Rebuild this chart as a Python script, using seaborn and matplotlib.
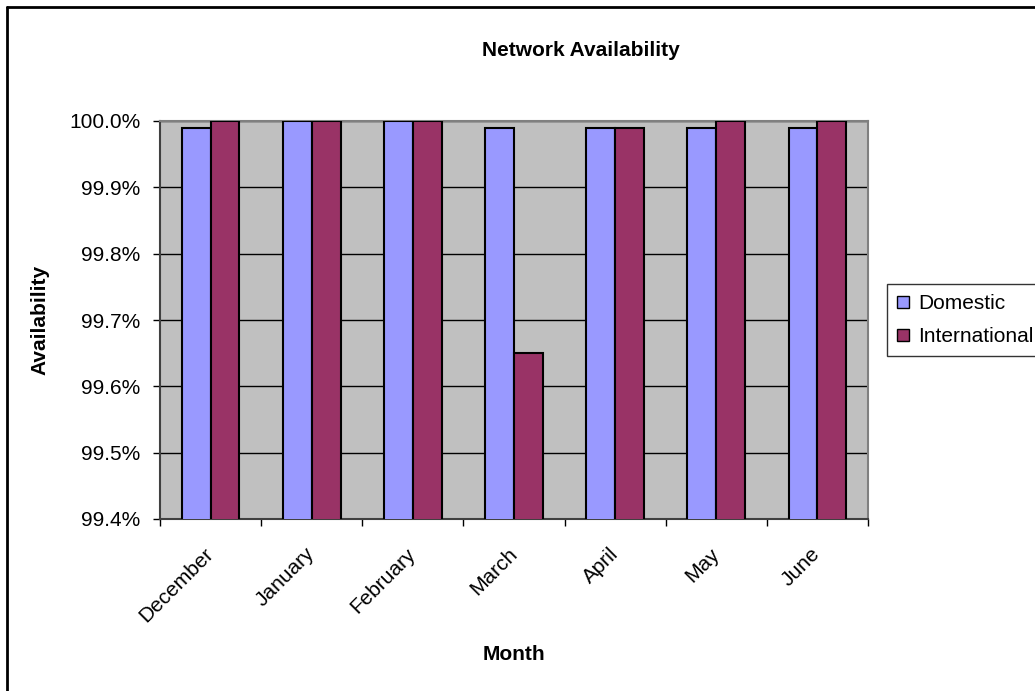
import matplotlib
matplotlib.use("Agg")
import matplotlib.pyplot as plt
import pandas as pd
import seaborn as sns
from matplotlib.ticker import FuncFormatter, FixedLocator
from matplotlib.lines import Line2D

months = ["December", "January", "February", "March", "April", "May", "June"]
domestic = [99.99, 100.0, 100.0, 99.99, 99.99, 99.99, 99.99]
international = [100.0, 100.0, 100.0, 99.65, 99.99, 100.0, 100.0]
series = ["Domestic", "International"]
colors = ["#9999FF", "#993366"]

df = pd.DataFrame({
    "Month": months * 2,
    "Availability": domestic + international,
    "Series": [series[0]] * len(months) + [series[1]] * len(months),
})

sns.set_style("white")
plt.rcParams["font.family"] = ["Liberation Sans", "DejaVu Sans"]
plt.rcParams["text.color"] = "black"
plt.rcParams["axes.labelcolor"] = "black"
plt.rcParams["xtick.color"] = "black"
plt.rcParams["ytick.color"] = "black"

fig = plt.figure(figsize=(10.35, 6.91), dpi=100)
ax = fig.add_axes([160 / 1035, 1 - 519 / 691, 708 / 1035, 398 / 691])
ax.set_facecolor("#C0C0C0")

sns.barplot(data=df, x="Month", y="Availability", hue="Series", order=months,
            hue_order=series, palette=colors, saturation=1, width=0.57,
            edgecolor="black", linewidth=1.5, ax=ax, legend=False, zorder=3)

ax.set_ylim(99.4, 100.0)
ax.set_xlim(-0.5, len(months) - 0.5)
ax.set_yticks([99.4 + 0.1 * i for i in range(7)])
ax.yaxis.set_major_formatter(FuncFormatter(lambda v, p: f"{v:.1f}%"))
ax.grid(axis="y", color="black", linewidth=1, zorder=1)
ax.set_axisbelow(True)
ax.tick_params(axis="y", length=5, width=1, labelsize=15, color="black",
               labelcolor="black", pad=9, left=True)
ax.tick_params(axis="x", which="major", length=0, labelsize=15,
               labelcolor="black", pad=23)
ax.xaxis.set_minor_locator(FixedLocator([i - 0.5 for i in range(len(months) + 1)]))
ax.tick_params(axis="x", which="minor", length=5, width=1, color="black", bottom=True)
plt.setp(ax.get_xticklabels(), rotation=45, ha="right", va="center",
         rotation_mode="anchor")

for side in ["top", "right"]:
    ax.spines[side].set_color("#808080")
    ax.spines[side].set_linewidth(1.5)
for side in ["left", "bottom"]:
    ax.spines[side].set_color("#404040")
    ax.spines[side].set_linewidth(1.5)

ax.set_xlabel("Month", fontsize=15, fontweight="bold", labelpad=14)
ax.set_ylabel("Availability", fontsize=15, fontweight="bold", labelpad=14)

fig.text(581 / 1035, 1 - 50 / 691, "Network Availability", fontsize=15,
         fontweight="bold", ha="center", va="center")

handles = [Line2D([], [], marker="s", linestyle="", markersize=8,
                  markerfacecolor=c, markeredgecolor="black", markeredgewidth=1)
           for c in colors]
leg = fig.legend(handles, series, loc="upper left",
                 bbox_to_anchor=(887 / 1035, 1 - 284 / 691), fontsize=15,
                 frameon=True, fancybox=False, edgecolor="black",
                 handlelength=0.5, handletextpad=0.5, borderpad=0.5,
                 labelspacing=0.65, borderaxespad=0)
leg.get_frame().set_linewidth(1)

fig.add_artist(Line2D([7 / 1035, 7 / 1035], [0, 1 - 7 / 691], color="black",
                      linewidth=2, transform=fig.transFigure))
fig.add_artist(Line2D([7 / 1035, 1], [1 - 7 / 691, 1 - 7 / 691], color="black",
                      linewidth=2, transform=fig.transFigure))

fig.savefig("out.png", dpi=100)
